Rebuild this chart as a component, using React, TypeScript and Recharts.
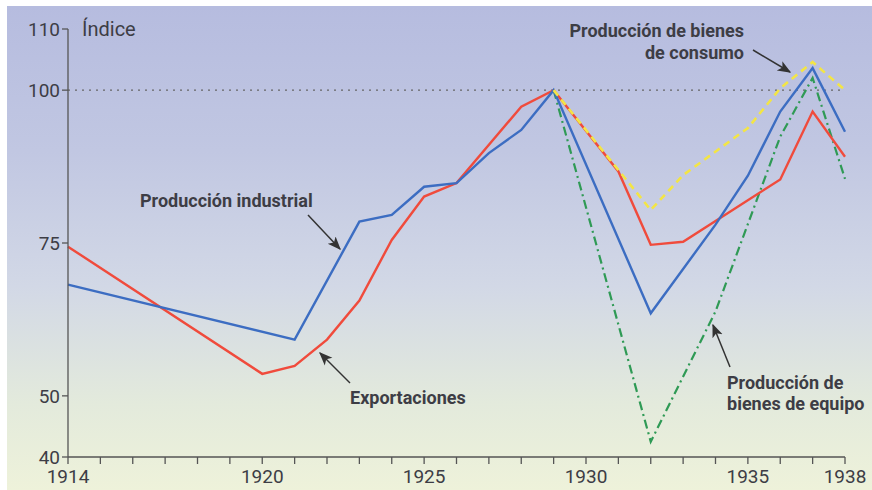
import React from 'react';
import { LineChart, Line, XAxis, YAxis, ReferenceLine } from 'recharts';

const years = [
  1914, 1915, 1916, 1917, 1918, 1919, 1920, 1921, 1922, 1923, 1924, 1925, 1926,
  1927, 1928, 1929, 1930, 1931, 1932, 1933, 1934, 1935, 1936, 1937, 1938,
];

// Producción industrial (blue)
const industrial = [
  68.2, null, null, null, null, null, null, 59.2, null, 78.5, 79.6, 84.2, 84.8,
  89.7, 93.5, 100, null, null, 63.5, null, 78.0, 86.0, 96.5, 103.6, 93.2,
];

// Exportaciones (red)
const exportaciones = [
  74.4, null, null, null, null, null, 53.6, 54.9, 59.2, 65.6, 75.5, 82.6, 84.8,
  null, 97.3, 100, null, 86.7, 74.7, 75.2, null, null, 85.4, 96.5, 89.1,
];

// Producción de bienes de consumo (yellow dashed)
const consumo = [
  null, null, null, null, null, null, null, null, null, null, null, null, null,
  null, null, 100, null, null, 80.4, 86.1, null, 93.8, 100.3, 104.6, 100,
];

// Producción de bienes de equipo (green dash-dot)
const equipo = [
  null, null, null, null, null, null, null, null, null, null, null, null, null,
  null, null, 100, null, null, 42.5, null, 63.8, null, 92.4, 102, 85.5,
];

const yTicks = [40, 50, 75, 100, 110];
const labelledYears = [1914, 1920, 1925, 1930, 1935, 1938];

const data = years.map((year, i) => ({
  year,
  industrial: industrial[i],
  exportaciones: exportaciones[i],
  consumo: consumo[i],
  equipo: equipo[i],
}));

const FONT = '"Liberation Sans Narrow", "Roboto", "Liberation Sans", sans-serif';
const INK = '#3d3d45';

export default function App() {
  return (
    <div style={{ position: 'absolute', left: 0, top: 0, width: 872, height: 490, background: '#fff', fontFamily: FONT }}>
      <div
        style={{
          position: 'absolute',
          left: 7,
          top: 6,
          width: 865,
          height: 484,
          background: 'linear-gradient(180deg, #b6bcdf 0%, #c1c7e2 30%, #d2d8e6 58%, #e3eadc 82%, #eef2da 100%)',
        }}
      />
      <div style={{ position: 'absolute', left: 0, top: 0 }}>
        <LineChart width={872} height={490} data={data} margin={{ top: 29, right: 27, bottom: 7, left: 8 }}>
          <XAxis
            dataKey="year"
            type="number"
            domain={[1914, 1938]}
            ticks={years}
            interval={0}
            tickFormatter={(v: number) => (labelledYears.includes(v) ? String(v) : '')}
            height={26}
            tickSize={7}
            tickMargin={6}
            axisLine={{ stroke: '#555', strokeWidth: 1.3 }}
            tickLine={{ stroke: '#555', strokeWidth: 1.3 }}
            tick={{ fill: INK, fontSize: 19, fontFamily: FONT }}
          />
          <YAxis
            type="number"
            domain={[40, 110]}
            ticks={yTicks}
            interval={0}
            width={60}
            tickSize={6}
            axisLine={{ stroke: '#555', strokeWidth: 1.3 }}
            tickLine={{ stroke: '#555', strokeWidth: 1.3 }}
            tick={{ fill: INK, fontSize: 19, fontFamily: FONT }}
          />
          <ReferenceLine y={100} stroke="#666" strokeDasharray="2 5" strokeWidth={1.3} />
          <Line
            dataKey="equipo"
            stroke="#2f9a55"
            strokeWidth={2.2}
            strokeDasharray="9 4 2 4"
            dot={false}
            connectNulls
            isAnimationActive={false}
          />
          <Line
            dataKey="exportaciones"
            stroke="#f04b3c"
            strokeWidth={2.4}
            dot={false}
            connectNulls
            isAnimationActive={false}
          />
          <Line
            dataKey="industrial"
            stroke="#3c6dc2"
            strokeWidth={2.4}
            dot={false}
            connectNulls
            isAnimationActive={false}
          />
          <Line
            dataKey="consumo"
            stroke="#f3e545"
            strokeWidth={2.6}
            strokeDasharray="7 5"
            dot={false}
            connectNulls
            isAnimationActive={false}
          />
        </LineChart>
      </div>
      <svg width={872} height={490} style={{ position: 'absolute', left: 0, top: 0, pointerEvents: 'none' }}>
        <defs>
          <marker id="head" viewBox="0 0 10 10" refX="9" refY="5" markerWidth="9" markerHeight="9" orient="auto">
            <path d="M0,1 L10,5 L0,9 L2.5,5 Z" fill="#333" />
          </marker>
        </defs>
        <text x={82} y={36} fontSize={20} fill={INK} fontFamily={FONT}>Índice</text>
        <g fontFamily={FONT} fontWeight="bold" fontSize={18} fill={INK}>
          <text x={140} y={207}>Producción industrial</text>
          <text x={350} y={404}>Exportaciones</text>
          <text x={744} y={37} textAnchor="end">Producción de bienes</text>
          <text x={744} y={59} textAnchor="end">de consumo</text>
          <text x={727} y={389}>Producción de</text>
          <text x={727} y={410}>bienes de equipo</text>
        </g>
        <g stroke="#333" strokeWidth={1.5}>
          <line x1={308} y1={215} x2={340} y2={249} markerEnd="url(#head)" />
          <line x1={350} y1={383} x2={320} y2={353} markerEnd="url(#head)" />
          <line x1={753} y1={50} x2={790} y2={72} markerEnd="url(#head)" />
          <line x1={730} y1={367} x2={713} y2={325} markerEnd="url(#head)" />
        </g>
      </svg>
    </div>
  );
}
